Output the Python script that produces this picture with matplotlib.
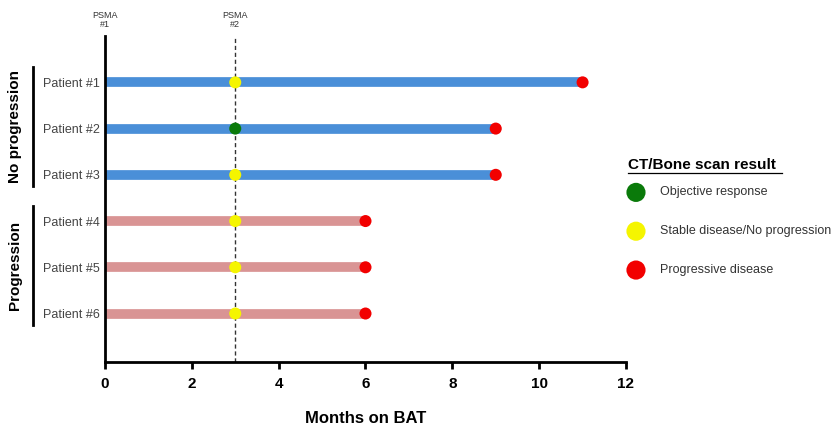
import numpy as np
import matplotlib.pyplot as plt

plt.rcParams['font.family'] = ['Liberation Sans', 'DejaVu Sans']

# 数据
patients = ['Patient #1', 'Patient #2', 'Patient #3', 'Patient #4', 'Patient #5', 'Patient #6']
months_total = [11, 9, 9, 6, 6, 6]
psma2_month = 3
psma2_result = ['stable', 'objective', 'stable', 'stable', 'stable', 'stable']
end_result = ['progressive'] * 6
group = ['No progression'] * 3 + ['Progression'] * 3
x_ticks = [0, 2, 4, 6, 8, 10, 12]

result_colors = {'objective': '#0a7a0a', 'stable': '#f5f500', 'progressive': '#f20000'}
result_labels = {'objective': 'Objective response', 'stable': 'Stable disease/No progression',
                 'progressive': 'Progressive disease'}
bar_colors = {'No progression': '#4a8fd8', 'Progression': '#d99494'}

fig = plt.figure(figsize=(8.36, 4.30), dpi=100)
ax = fig.add_axes([0.1256, 0.158, 0.6232, 0.758])

y_pos = np.arange(1, len(patients) + 1)
for y, total, g in zip(y_pos, months_total, group):
    ax.plot([0, total], [y, y], color=bar_colors[g], linewidth=7, solid_capstyle='butt', zorder=2)

ax.axvline(psma2_month, color='#333333', linestyle=(0, (3, 2)), linewidth=1, zorder=1)

for y, res in zip(y_pos, psma2_result):
    ax.scatter(psma2_month, y, s=75, color=result_colors[res], zorder=3, edgecolors='none')
for y, total, res in zip(y_pos, months_total, end_result):
    ax.scatter(total, y, s=75, color=result_colors[res], zorder=3, edgecolors='none')

ax.set_xlim(0, 12)
ax.set_ylim(7.05, 0)
ax.spines['top'].set_visible(False)
ax.spines['right'].set_visible(False)
ax.spines['left'].set_linewidth(2)
ax.spines['bottom'].set_linewidth(2)
ax.set_xticks(x_ticks)
ax.set_xticklabels([str(t) for t in x_ticks], fontsize=11, fontweight='bold')
ax.tick_params(axis='x', width=2, length=5, pad=6)
ax.set_yticks(y_pos)
ax.set_yticklabels(patients, fontsize=9, color='#444444')
ax.tick_params(axis='y', length=0, pad=4)
ax.set_xlabel('Months on BAT', fontsize=12, fontweight='bold', labelpad=14)

# PSMA 标记
ax.text(0, -0.15, 'PSMA\n#1', fontsize=6.5, ha='center', va='bottom', color='#333333',
        linespacing=1.0, clip_on=False)
ax.text(psma2_month, -0.15, 'PSMA\n#2', fontsize=6.5, ha='center', va='bottom', color='#333333',
        linespacing=1.0, clip_on=False)

# 分组括号
for g in ['No progression', 'Progression']:
    idx = [y for y, gg in zip(y_pos, group) if gg == g]
    y0, y1 = min(idx) - 0.33, max(idx) + 0.25
    ax.plot([-1.66, -1.66], [y0, y1], color='black', linewidth=2, clip_on=False)
    ax.text(-2.08, (y0 + y1) / 2, g, rotation=90, fontsize=11, fontweight='bold',
            ha='center', va='center', clip_on=False)

# 图例
ax.text(12.05, 2.78, 'CT/Bone scan result', fontsize=11, fontweight='bold', ha='left', va='center',
        clip_on=False)
ax.plot([12.05, 15.6], [2.97, 2.97], color='black', linewidth=0.9, clip_on=False)
for i, key in enumerate(['objective', 'stable', 'progressive']):
    yy = 3.38 + i * 0.84
    ax.scatter(12.23, yy, s=190, color=result_colors[key], edgecolors='none', clip_on=False)
    ax.text(12.79, yy, result_labels[key], fontsize=9, color='#333333', ha='left', va='center',
            clip_on=False)

plt.savefig('out.png', dpi=100)
plt.close()
